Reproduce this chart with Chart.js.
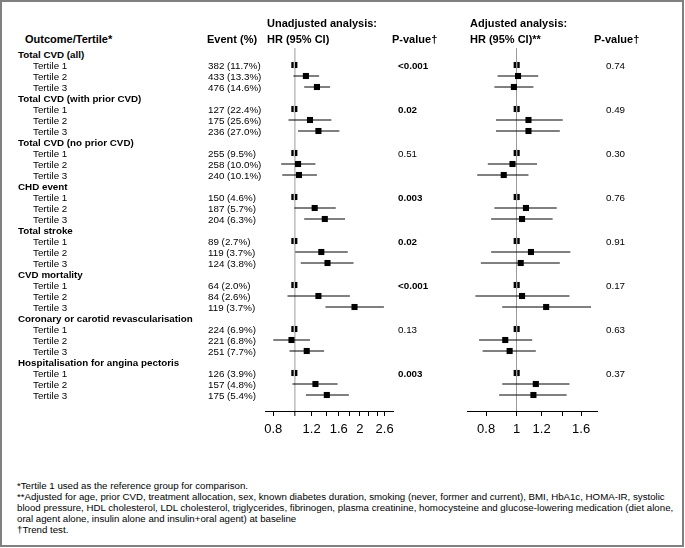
<!DOCTYPE html>
<html>
<head>
<meta charset="utf-8">
<script src="https://cdn.jsdelivr.net/npm/chart.js@4.4.1/dist/chart.umd.min.js"></script>
<style>
  html, body { margin:0; padding:0; background:#fff; }
  body { width:685px; height:548px; position:relative; overflow:hidden; font-family:"Liberation Sans", Arial, sans-serif; color:#000; }
  #frame { position:absolute; left:0; top:0; width:684px; height:547px; border:2px solid #808080; box-sizing:border-box; }
  .t { position:absolute; white-space:nowrap; z-index:2; }
  .hdr { font-size:11px; font-weight:bold; line-height:14px; }
  .row { font-size:9.8px; line-height:11px; }
  .b { font-weight:bold; }
  .fn { font-size:9.7px; line-height:11px; }
  canvas { position:absolute; z-index:1; }
</style>
</head>
<body>
<div id="frame"></div>
<canvas id="cu" width="190" height="411" style="left:230px;top:40px;width:190px;height:411px"></canvas>
<canvas id="ca" width="180" height="411" style="left:440px;top:40px;width:180px;height:411px"></canvas>
<div id="texts"></div>
<script>
// ---------- DATA ----------
const outcomes = ['Total CVD (all)', 'Total CVD (with prior CVD)', 'Total CVD (no prior CVD)', 'CHD event',
  'Total stroke', 'CVD mortality', 'Coronary or carotid revascularisation', 'Hospitalisation for angina pectoris'];
const tertiles = ['Tertile 1', 'Tertile 2', 'Tertile 3'];
const events = [
  '382 (11.7%)', '433 (13.3%)', '476 (14.6%)',
  '127 (22.4%)', '175 (25.6%)', '236 (27.0%)',
  '255 (9.5%)', '258 (10.0%)', '240 (10.1%)',
  '150 (4.6%)', '187 (5.7%)', '204 (6.3%)',
  '89 (2.7%)', '119 (3.7%)', '124 (3.8%)',
  '64 (2.0%)', '84 (2.6%)', '119 (3.7%)',
  '224 (6.9%)', '221 (6.8%)', '251 (7.7%)',
  '126 (3.9%)', '157 (4.8%)', '175 (5.4%)'];
const pUnadj = ['<0.001', '0.02', '0.51', '0.003', '0.02', '<0.001', '0.13', '0.003'];
const pUnadjSig = [true, true, false, true, true, true, false, true];
const pAdj = ['0.74', '0.49', '0.30', '0.76', '0.91', '0.17', '0.63', '0.37'];

// Unadjusted HR (Tertile 1, 2, 3 per outcome)
const unadjHR = [1, 1.13, 1.27, 1, 1.18, 1.29, 1, 1.04, 1.05, 1, 1.24, 1.38, 1, 1.33, 1.42, 1, 1.29, 1.89, 1, 0.97, 1.14, 1, 1.25, 1.41];
const unadjLo = [null, 0.99, 1.11, null, 0.94, 1.04, null, 0.87, 0.88, null, 1.00, 1.11, null, 1.01, 1.07, null, 0.93, 1.39, null, 0.80, 0.95, null, 0.98, 1.13];
const unadjHi = [null, 1.30, 1.46, null, 1.48, 1.61, null, 1.25, 1.27, null, 1.55, 1.71, null, 1.76, 1.87, null, 1.80, 2.58, null, 1.18, 1.37, null, 1.58, 1.78];

// Adjusted HR
const adjHR = [1, 1.01, 0.98, 1, 1.09, 1.09, 1, 0.97, 0.91, 1, 1.07, 1.04, 1, 1.11, 1.03, 1, 1.04, 1.24, 1, 0.92, 0.95, 1, 1.15, 1.13];
const adjLo = [null, 0.87, 0.85, null, 0.86, 0.86, null, 0.81, 0.75, null, 0.85, 0.83, null, 0.83, 0.77, null, 0.74, 0.90, null, 0.76, 0.78, null, 0.90, 0.88];
const adjHi = [null, 1.17, 1.13, null, 1.40, 1.37, null, 1.16, 1.09, null, 1.34, 1.30, null, 1.48, 1.37, null, 1.47, 1.72, null, 1.12, 1.15, null, 1.47, 1.44];

const unadjTicks = [0.8, 1, 1.2, 1.4, 1.6, 1.8, 2, 2.2, 2.4, 2.6];
const unadjTickLabels = ['0.8', '', '1.2', '', '1.6', '', '2', '', '', '2.6'];
const adjTicks = [0.8, 1, 1.2, 1.4, 1.6];
const adjTickLabels = ['0.8', '1', '1.2', '', '1.6'];

const footnotes = [
  '*Tertile 1 used as the reference group for comparison.',
  '**Adjusted for age, prior CVD, treatment allocation, sex, known diabetes duration, smoking (never, former and current), BMI, HbA1c, HOMA-IR, systolic',
  'blood pressure, HDL cholesterol, LDL cholesterol, triglycerides, fibrinogen, plasma creatinine, homocysteine and glucose-lowering medication (diet alone,',
  'oral agent alone, insulin alone and insulin+oral agent) at baseline',
  '\u2020Trend test.'];

// ---------- LAYOUT ----------
const ROW0 = 54, ROWH = 11;
const rowY = i => ROW0 + ROWH * i;
const rowOf = k => Math.floor(k / 3) * 4 + 1 + (k % 3);

const host = document.getElementById('texts');
function addText(txt, x, yCenter, cls, lh) {
  const d = document.createElement('div');
  d.className = 't ' + cls;
  d.textContent = txt;
  d.style.left = x + 'px';
  d.style.top = (yCenter - lh / 2) + 'px';
  host.appendChild(d);
}
// headers
addText('Outcome/Tertile*', 25, 39, 'hdr', 14);
addText('Event (%)', 207, 39, 'hdr', 14);
addText('Unadjusted analysis:', 267, 23, 'hdr', 14);
addText('HR (95% CI)', 267, 39, 'hdr', 14);
addText('P-value\u2020', 392, 39, 'hdr', 14);
addText('Adjusted analysis:', 470, 23, 'hdr', 14);
addText('HR (95% CI)**', 470, 39, 'hdr', 14);
addText('P-value\u2020', 594, 39, 'hdr', 14);

outcomes.forEach((o, g) => {
  addText(o, 18, rowY(g * 4), 'row b', 11);
  tertiles.forEach((t, j) => {
    const k = g * 3 + j;
    addText(t, 33, rowY(rowOf(k)), 'row', 11);
    addText(events[k], 208, rowY(rowOf(k)), 'row', 11);
  });
  addText(pUnadj[g], 398, rowY(g * 4 + 1), 'row' + (pUnadjSig[g] ? ' b' : ''), 11);
  addText(pAdj[g], 606, rowY(g * 4 + 1), 'row', 11);
});
const fnY = [485, 496, 507, 518, 529];
footnotes.forEach((f, i) => addText(f, 17, fnY[i], 'fn', 11));

// ---------- CHARTS ----------
const yMin = (48 - ROW0) / ROWH, yMax = (411 - ROW0) / ROWH;

function forest(id, hr, lo, hi, xmin, xmax, tickVals, tickLabels, refColor, refWidth, padL, padR) {
  const datasets = [];
  hr.forEach((v, k) => {
    const y = rowOf(k);
    if (lo[k] != null) {
      datasets.push({ type: 'scatter', showLine: true, data: [{ x: lo[k], y }, { x: hi[k], y }],
        borderColor: '#000', borderWidth: 1, pointRadius: 0, pointHoverRadius: 0, order: 3 });
    } else {
      // reference line visible through the reference-group marker
      datasets.push({ type: 'scatter', showLine: true, data: [{ x: v, y: y - 0.3 }, { x: v, y: y + 0.3 }],
        borderColor: refColor, borderWidth: 1, pointRadius: 0, pointHoverRadius: 0, order: 1 });
    }
  });
  datasets.push({ type: 'scatter', data: hr.map((v, k) => ({ x: v, y: rowOf(k) })),
    pointStyle: 'rect', pointRadius: 4.3, backgroundColor: '#000', borderColor: '#000', borderWidth: 0, order: 2 });
  new Chart(document.getElementById(id), {
    type: 'scatter',
    data: { datasets },
    options: {
      responsive: false, animation: false, devicePixelRatio: 1,
      layout: { padding: { left: padL, right: padR, top: 8, bottom: 0 } },
      plugins: { legend: { display: false }, tooltip: { enabled: false } },
      scales: {
        x: {
          type: 'logarithmic', min: xmin, max: xmax, bounds: 'data',
          afterBuildTicks: s => { s.ticks = tickVals.map(v => ({ value: v })); },
          afterFit: s => { s.height = 40; },
          ticks: { autoSkip: false, maxRotation: 0, padding: 6, color: '#000',
            font: { family: 'Liberation Sans', size: 13 },
            callback: (v, i) => tickLabels[i] },
          grid: {
            color: c => (c.tick && Math.abs(c.tick.value - 1) < 1e-9) ? refColor : 'rgba(0,0,0,0)',
            lineWidth: c => (c.tick && Math.abs(c.tick.value - 1) < 1e-9) ? refWidth : 1,
            tickColor: '#000', tickLength: 5, tickWidth: 1, drawTicks: true
          },
          border: { display: true, color: '#000', width: 1 }
        },
        y: { type: 'linear', reverse: true, min: yMin, max: yMax, display: false }
      }
    }
  });
}

forest('cu', unadjHR, unadjLo, unadjHi, 0.733, 2.84, unadjTicks, unadjTickLabels, '#c4c4c4', 1.7, 35, 27);
forest('ca', adjHR, adjLo, adjHi, 0.696, 1.797, adjTicks, adjTickLabels, '#9a9a9a', 1, 27, 23);
</script>
</body>
</html>
